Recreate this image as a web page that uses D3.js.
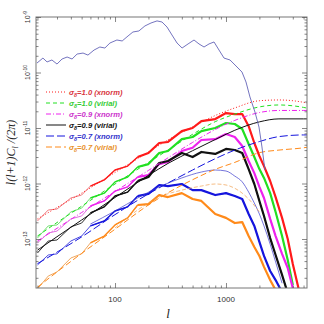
<!DOCTYPE html>
<html lang="en">
<head>
<meta charset="UTF-8">
<title>Angular power spectrum, sigma8 models</title>
<script src="https://d3js.org/d3.v7.min.js"></script>
<style>
  body { margin: 0; background: #fff; }
  svg { display: block; background: #fff; }
  .tick-label { font-family: "Liberation Sans", Arial, sans-serif; font-size: 8px; fill: #333; }
  .legend text { font-family: "Liberation Sans", Arial, sans-serif; font-size: 7.6px; font-style: italic; font-weight: bold; }
  .title { font-family: "Liberation Serif", "Times New Roman", serif; font-style: italic; fill: #222; }
</style>
</head>
<body>
<svg width="324" height="324"></svg>
<script>
// primary (upper) spectrum
const cmbL = [19.8, 22.4, 24.4, 27, 30, 33.3, 37, 41, 45.5, 51.5, 57, 64.7, 73, 81, 90, 104, 116, 131, 145, 164, 186, 211, 239, 265, 294, 326, 362, 402, 455, 515, 571, 634, 703, 780, 865, 960, 1087, 1231, 1393, 1514, 1644, 1824, 1983, 2109, 2244];
const cmbV = [1.48e-10, 1.82e-10, 1.55e-10, 1.68e-10, 1.42e-10, 1.75e-10, 1.9e-10, 1.75e-10, 2.15e-10, 2.24e-10, 2.06e-10, 2.54e-10, 2.88e-10, 2.76e-10, 3.4e-10, 3.85e-10, 3.7e-10, 4.55e-10, 5.37e-10, 5.6e-10, 6.9e-10, 7.8e-10, 8.5e-10, 8.13e-10, 6.6e-10, 4.74e-10, 3.4e-10, 2.76e-10, 3.27e-10, 3.85e-10, 3.27e-10, 2.88e-10, 3.27e-10, 3.55e-10, 2.54e-10, 1.82e-10, 1.68e-10, 1.31e-10, 1.02e-10, 6.75e-11, 3.62e-11, 1.94e-11, 1.04e-11, 4.55e-12, 1.75e-12];

// model curves
const theoryL = [20, 30, 50, 100, 200, 300, 500, 800, 1200, 2000, 3000, 5000, 5400];
const xnorm10 = [2.3e-13, 3.7e-13, 6.7e-13, 1.58e-12, 3.7e-12, 6.1e-12, 1.05e-11, 1.68e-11, 2.3e-11, 3.1e-11, 3.2e-11, 2.9e-11, 2.8e-11];
const virial10 = [1.13e-13, 1.98e-13, 3.9e-13, 9.8e-13, 2.4e-12, 4.0e-12, 7.7e-12, 1.3e-11, 1.78e-11, 2.4e-11, 2.6e-11, 2.35e-11, 2.28e-11];
const xnorm09 = [9.2e-14, 1.56e-13, 3.0e-13, 7.2e-13, 1.72e-12, 2.9e-12, 5.5e-12, 9.4e-12, 1.37e-11, 1.9e-11, 2.07e-11, 2.07e-11, 2.07e-11];
const virial09 = [6.3e-14, 1.1e-13, 2.2e-13, 5.6e-13, 1.4e-12, 2.3e-12, 3.9e-12, 6.2e-12, 9.1e-12, 1.29e-11, 1.46e-11, 1.46e-11, 1.46e-11];
const xnorm07 = [3.6e-14, 5.8e-14, 1.09e-13, 2.75e-13, 6.5e-13, 1.02e-12, 1.75e-12, 2.8e-12, 4.0e-12, 5.7e-12, 7.0e-12, 7.5e-12, 7.5e-12];
const virial07 = [1.35e-14, 2.55e-14, 5.5e-14, 1.5e-13, 4.1e-13, 6.8e-13, 1.17e-12, 1.8e-12, 2.4e-12, 3.6e-12, 4.0e-12, 4.4e-12, 4.5e-12];

// simulated spectra
const simL = [20, 25, 30, 40, 50, 60, 80, 100, 130, 160, 200, 250, 300, 400, 500, 600, 800, 1000, 1200, 1400, 1600, 1800, 2000, 2200, 2500, 2800, 3200, 3600, 4000, 4500];
const simRed = [2.11e-13, 3.33e-13, 3.47e-13, 5.48e-13, 6.2e-13, 9.0e-13, 1.16e-12, 1.75e-12, 2.06e-12, 3.0e-12, 3.55e-12, 5.37e-12, 5.6e-12, 8.8e-12, 1.0e-11, 1.33e-11, 1.45e-11, 1.86e-11, 1.78e-11, 1.78e-11, 1.08e-11, 5.37e-12, 3.13e-12, 2.06e-12, 1.11e-12, 5.7e-13, 2.4e-13, 1.0e-13, 3.55e-14, 1.3e-14];
const simGreen = [1.04e-13, 1.72e-13, 1.79e-13, 3.07e-13, 3.6e-13, 5.48e-13, 6.7e-13, 1.07e-12, 1.31e-12, 1.98e-12, 2.24e-12, 3.55e-12, 3.85e-12, 6.3e-12, 6.88e-12, 8.8e-12, 1.0e-11, 1.23e-11, 1.18e-11, 9.6e-12, 5.15e-12, 3.0e-12, 1.82e-12, 1.26e-12, 6.7e-13, 3.07e-13, 1.13e-13, 4.19e-14, 1.48e-14];
const simMagenta = [8.5e-14, 1.28e-13, 1.39e-13, 2.3e-13, 2.6e-13, 3.93e-13, 4.85e-13, 7.3e-13, 8.7e-13, 1.31e-12, 1.42e-12, 2.24e-12, 2.44e-12, 3.85e-12, 4.4e-12, 6.08e-12, 6.3e-12, 7.8e-12, 6.9e-12, 4.74e-12, 2.54e-12, 1.54e-12, 8.7e-13, 5.48e-13, 2.3e-13, 1.13e-13, 5.4e-14, 3.0e-14, 1.3e-14];
const simBlack = [5.6e-14, 9.2e-14, 9.6e-14, 1.65e-13, 1.94e-13, 2.95e-13, 3.8e-13, 5.95e-13, 7.0e-13, 1.11e-12, 1.31e-12, 2.34e-12, 2.54e-12, 3.55e-12, 3.0e-12, 3.7e-12, 3.41e-12, 4.2e-12, 4.02e-12, 3.55e-12, 1.82e-12, 9.8e-13, 4.85e-13, 2.6e-13, 1.04e-13, 5.15e-14, 2.25e-14, 1.06e-14];
const simBlue = [3.4e-14, 5.15e-14, 5.4e-14, 9.2e-14, 1.13e-13, 1.72e-13, 2.11e-13, 3.2e-13, 3.8e-13, 5.95e-13, 6.5e-13, 9.4e-13, 9.0e-13, 9.8e-13, 7.6e-13, 7.6e-13, 6.2e-13, 6.7e-13, 5.95e-13, 5.25e-13, 2.82e-13, 1.72e-13, 8.85e-14, 4.95e-14, 2.65e-14, 1.82e-14, 1.1e-14];
const simOrange = [1.26e-14, 2.15e-14, 2.55e-14, 4.55e-14, 5.4e-14, 8.5e-14, 1.13e-13, 1.79e-13, 2.4e-13, 4.1e-13, 4.25e-13, 6.2e-13, 5.7e-13, 6.7e-13, 5.25e-13, 4.85e-13, 2.82e-13, 2.4e-13, 1.94e-13, 2.02e-13, 1.13e-13, 7.2e-14, 4.95e-14, 3.15e-14, 1.82e-14, 1.2e-14];

// thin component curves
const thinBlueL = [60, 100, 160, 250, 400, 600, 800, 1000, 1200, 1400, 1600, 1800, 2000, 2200, 2500, 2800, 3200];
const thinBlueV = [1.86e-13, 3.2e-13, 5.48e-13, 8.7e-13, 1.26e-12, 1.61e-12, 1.75e-12, 1.68e-12, 1.36e-12, 1.07e-12, 7.0e-13, 4.45e-13, 2.82e-13, 1.72e-13, 8.1e-14, 3.86e-14, 1.6e-14];
const thinOrangeL = [100, 160, 250, 400, 600, 800, 1000, 1200, 1400, 1600, 2000];
const thinOrangeV = [1.58e-13, 3.33e-13, 5.7e-13, 7.6e-13, 9.0e-13, 9.8e-13, 9.4e-13, 8.2e-13, 6.7e-13, 5.25e-13, 3.07e-13];

const legendSigma = ["1.0", "1.0", "0.9", "0.9", "0.7", "0.7"];
const legendModel = ["xnorm", "virial", "xnorm", "virial", "xnorm", "virial"];

const xMajor = [100, 1000];
const yMajor = [1e-9, 1e-10, 1e-11, 1e-12, 1e-13];
const yLabelExp = ["-9", "-10", "-11", "-12", "-13"];

const svg = d3.select("svg");
const margin = {top: 17, right: 17, bottom: 36, left: 36};
const width = 324 - margin.left - margin.right,
      height = 324 - margin.top - margin.bottom;

const x = d3.scaleLog().domain([19.4, 5370]).range([margin.left, margin.left + width]);
const y = d3.scaleLog().domain([1.31e-14, 1e-9]).range([margin.top + height, margin.top]);

svg.append("clipPath").attr("id", "plot-clip")
  .append("rect")
  .attr("x", margin.left).attr("y", margin.top)
  .attr("width", width).attr("height", height);

const plot = svg.append("g").attr("clip-path", "url(#plot-clip)");

const styles = [
  {color: "#ff1a1a", light: "#f07a80", text: "#d9363e", dash: "1,2"},
  {color: "#22e022", light: "#70e070", text: "#33cc33", dash: "4,3"},
  {color: "#ee22ee", light: "#e070e0", text: "#cc33cc", dash: "5,2,1,2"},
  {color: "#111111", light: "#333333", text: "#111111", dash: null},
  {color: "#1515dd", light: "#4a4ae0", text: "#3333cc", dash: "8,3"},
  {color: "#ff8a1a", light: "#f0a860", text: "#e8902a", dash: "6,3"}
];

const zipped = (ls, vs) => vs.map((v, i) => [ls[i], v]);
const line = d3.line().x(d => x(d[0])).y(d => y(d[1]));
const smooth = d3.line().x(d => x(d[0])).y(d => y(d[1])).curve(d3.curveMonotoneX);

// simulated (noisy) curves: thin at low l, heavier where the scatter is dense
const sims = [simRed, simGreen, simMagenta, simBlack, simBlue, simOrange];
sims.forEach((vals, i) => {
  const pts = zipped(simL, vals);
  plot.append("path")
    .datum(pts)
    .attr("fill", "none")
    .attr("stroke", styles[i].light)
    .attr("stroke-width", 1)
    .attr("stroke-linejoin", "round")
    .attr("d", line);
  plot.append("path")
    .datum(pts.filter(d => d[0] >= 60 && d[0] < 200))
    .attr("fill", "none")
    .attr("stroke", styles[i].color)
    .attr("stroke-width", 1.4)
    .attr("stroke-linejoin", "round")
    .attr("d", line);
  plot.append("path")
    .datum(pts.filter(d => d[0] >= 160))
    .attr("fill", "none")
    .attr("stroke", styles[i].color)
    .attr("stroke-width", 2.2)
    .attr("stroke-linejoin", "round")
    .attr("d", line);
});

// thin component curves
plot.append("path")
  .datum(zipped(thinBlueL, thinBlueV))
  .attr("fill", "none").attr("stroke", "#3a3acc").attr("stroke-width", 0.7)
  .attr("d", smooth);
plot.append("path")
  .datum(zipped(thinOrangeL, thinOrangeV))
  .attr("fill", "none").attr("stroke", "#f0a050").attr("stroke-width", 0.7)
  .attr("stroke-dasharray", "4,2")
  .attr("d", smooth);

// model curves
const theories = [xnorm10, virial10, xnorm09, virial09, xnorm07, virial07];
theories.forEach((vals, i) => {
  plot.append("path")
    .datum(zipped(theoryL, vals))
    .attr("fill", "none")
    .attr("stroke", styles[i].color)
    .attr("stroke-width", 1)
    .attr("stroke-dasharray", styles[i].dash)
    .attr("d", smooth);
});

// upper spectrum
plot.append("path")
  .datum(zipped(cmbL, cmbV))
  .attr("fill", "none")
  .attr("stroke", "#6464b8")
  .attr("stroke-width", 0.9)
  .attr("d", line);

// frame
svg.append("rect")
  .attr("x", margin.left).attr("y", margin.top)
  .attr("width", width).attr("height", height)
  .attr("fill", "none").attr("stroke", "#777").attr("stroke-width", 1);

// ticks (inward, all four sides)
const xMinor = [];
[10, 100, 1000].forEach(dec => d3.range(2, 10).forEach(k => {
  const v = k * dec;
  if (v > 19.4 && v < 5370) xMinor.push(v);
}));
const yMinor = [];
[1e-14, 1e-13, 1e-12, 1e-11, 1e-10].forEach(dec => d3.range(2, 10).forEach(k => {
  const v = k * dec;
  if (v > 1.31e-14 && v < 1e-9) yMinor.push(v);
}));

function ticks(axis, vals, size, transform) {
  const g = svg.append("g").attr("transform", transform)
    .call(axis.tickValues(vals).tickSize(size).tickFormat(""));
  g.select(".domain").remove();
  g.selectAll("line").attr("stroke", "#555").attr("stroke-width", 0.7);
}
const bottom = margin.top + height, right = margin.left + width;
ticks(d3.axisBottom(x), xMajor, -5, `translate(0,${bottom})`);
ticks(d3.axisBottom(x), xMinor, -2.5, `translate(0,${bottom})`);
ticks(d3.axisTop(x), xMajor, -5, `translate(0,${margin.top})`);
ticks(d3.axisTop(x), xMinor, -2.5, `translate(0,${margin.top})`);
ticks(d3.axisLeft(y), yMajor, -5, `translate(${margin.left},0)`);
ticks(d3.axisLeft(y), yMinor, -2.5, `translate(${margin.left},0)`);
ticks(d3.axisRight(y), yMajor, -5, `translate(${right},0)`);
ticks(d3.axisRight(y), yMinor, -2.5, `translate(${right},0)`);

// tick labels
svg.selectAll(".xlab").data(xMajor).enter().append("text")
  .attr("class", "tick-label")
  .attr("x", d => x(d)).attr("y", bottom + 14)
  .attr("text-anchor", "middle")
  .text(d => d);

yMajor.forEach((d, i) => {
  const t = svg.append("text")
    .attr("class", "tick-label")
    .attr("transform", `translate(${margin.left - 6},${y(d)}) rotate(-90)`)
    .attr("text-anchor", "middle")
    .style("font-size", "7px");
  t.append("tspan").text("10");
  t.append("tspan").attr("dy", -3).style("font-size", "5px").text(yLabelExp[i]);
});

// axis titles
svg.append("text")
  .attr("class", "title")
  .attr("x", x(300)).attr("y", 318)
  .attr("text-anchor", "middle")
  .style("font-size", "13px")
  .text("l");

const yt = svg.append("text")
  .attr("class", "title")
  .attr("transform", `translate(15,${margin.top + height / 2}) rotate(-90)`)
  .attr("text-anchor", "middle")
  .style("font-size", "12px");
yt.append("tspan").text("l(l+1)C");
yt.append("tspan").attr("dy", 3).style("font-size", "8px").text("l");
yt.append("tspan").attr("dy", -3).text(" /(2\u03c0)");

// legend
const legend = svg.append("g").attr("class", "legend");
legendSigma.forEach((s, i) => {
  const ly = 92 + i * 11;
  legend.append("line")
    .attr("x1", 46).attr("x2", 66).attr("y1", ly).attr("y2", ly)
    .attr("stroke", styles[i].color)
    .attr("stroke-width", 1)
    .attr("stroke-dasharray", styles[i].dash);
  const t = legend.append("text")
    .attr("x", 69).attr("y", ly + 3)
    .attr("fill", styles[i].text);
  t.append("tspan").text("\u03c3");
  t.append("tspan").attr("dy", 2).style("font-size", "5.5px").text("8");
  t.append("tspan").attr("dy", -2).text(`=${s} (${legendModel[i]})`);
});
</script>
</body>
</html>
